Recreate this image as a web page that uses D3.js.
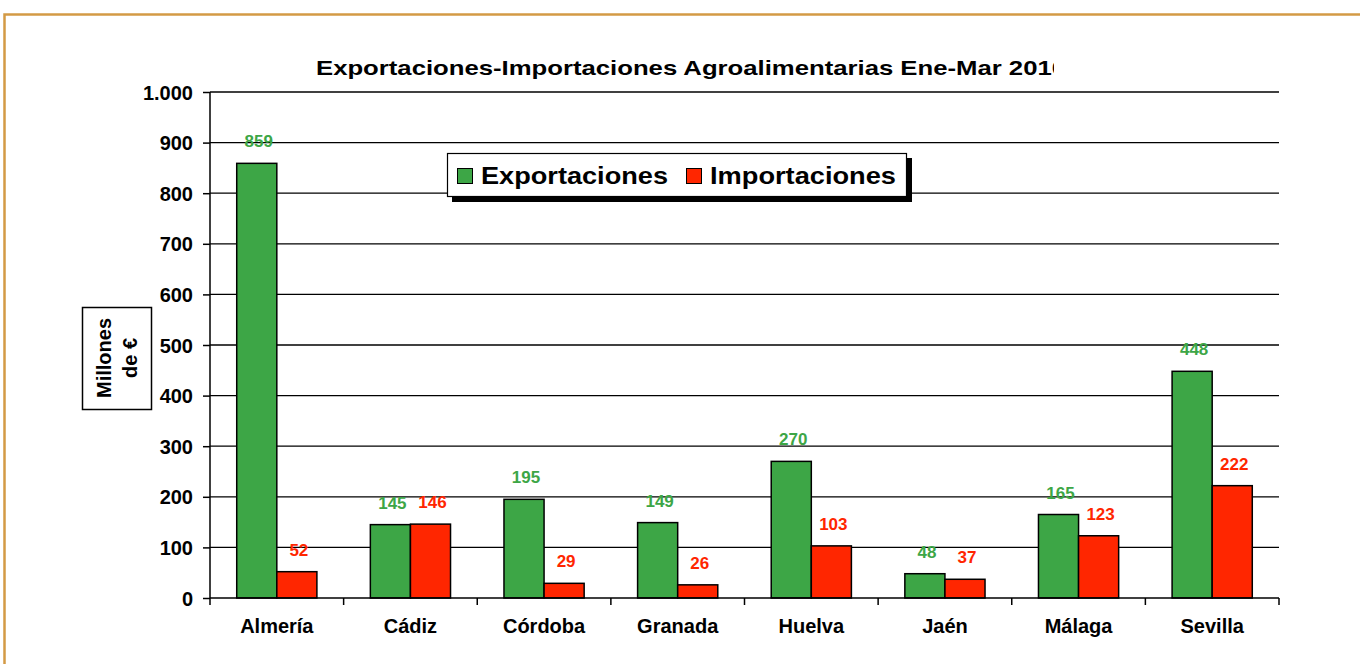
<!DOCTYPE html>
<html><head><meta charset="utf-8">
<script src="https://cdn.jsdelivr.net/npm/d3@7"></script>
<style>body{margin:0;background:#fff;} svg{display:block;font-family:"Liberation Sans",Arial,sans-serif;}</style>
</head><body>
<script>
const categories = ["Almería","Cádiz","Córdoba","Granada","Huelva","Jaén","Málaga","Sevilla"];
const exportaciones = [859,145,195,149,270,48,165,448];
const importaciones = [52,146,29,26,103,37,123,222];
const seriesNames = ["Exportaciones","Importaciones"];
const yTicks = [0,100,200,300,400,500,600,700,800,900,1000];
const title = "Exportaciones-Importaciones Agroalimentarias Ene-Mar 2010";

(function(){
const W=1360,H=664;
const colors = ["#3DA646","#FF2600"];
const svg = d3.select("body").append("svg").attr("width",W).attr("height",H);

// outer frame
svg.append("rect").attr("x",4.5).attr("y",14.5).attr("width",W).attr("height",H)
  .attr("fill","none").attr("stroke","#D39A45").attr("stroke-width",2.5);

const pL=210,pR=1279,pT=92,pB=598;
const x = d3.scaleBand().domain(categories).range([pL,pR]).paddingInner(0.4).paddingOuter(0.2);
const x0 = d3.scaleBand().domain(categories).range([pL,pR]);
const xs = d3.scaleBand().domain(seriesNames).range([0,x.bandwidth()]);
const y = d3.scaleLinear().domain([0,1000]).range([pB,pT]);

// gridlines
svg.append("g").selectAll("line").data(yTicks.filter(d=>d>0)).join("line")
  .attr("x1",pL).attr("x2",pR).attr("y1",d=>y(d)).attr("y2",d=>y(d))
  .attr("stroke","#000").attr("stroke-width",1.3);

// y axis
const fmt = d=> d>=1000 ? d3.format(",")(d).replace(",",".") : String(d);
const yAxis = d3.axisLeft(y).tickValues(yTicks).tickFormat(fmt).tickSize(7).tickPadding(10);
const gy = svg.append("g").attr("transform",`translate(${pL},0)`).call(yAxis);
gy.select(".domain").attr("stroke","#000").attr("stroke-width",1.5).attr("d",`M0,${pT}V${pB}`);
gy.selectAll(".tick line").attr("stroke","#000").attr("stroke-width",1.5);
gy.selectAll(".tick text").attr("font-size",20).attr("font-weight","bold").attr("fill","#000")
  .attr("font-family","Liberation Sans, Arial, sans-serif").attr("dy","0.35em");

// bars
const data = categories.map((c,i)=>({c, vals:[exportaciones[i],importaciones[i]]}));
const groups = svg.append("g").selectAll("g").data(data).join("g")
  .attr("transform",d=>`translate(${x(d.c)},0)`);
groups.selectAll("rect").data(d=>d.vals.map((v,j)=>({v,s:seriesNames[j],j}))).join("rect")
  .attr("x",d=>xs(d.s)).attr("width",xs.bandwidth()).attr("y",d=>y(d.v)).attr("height",d=>y(0)-y(d.v))
  .attr("fill",d=>colors[d.j]).attr("stroke","#000").attr("stroke-width",1.5);
groups.selectAll("text").data(d=>d.vals.map((v,j)=>({v,s:seriesNames[j],j}))).join("text")
  .attr("x",d=>xs(d.s)+xs.bandwidth()/2+2).attr("y",d=>y(d.v)-16)
  .attr("text-anchor","middle").attr("font-size",17).attr("font-weight","bold")
  .attr("fill",d=>colors[d.j]).text(d=>d.v);

// x axis
const xAxis = d3.axisBottom(x0).tickSize(0).tickPadding(21);
const gx = svg.append("g").attr("transform",`translate(0,${pB})`).call(xAxis);
gx.select(".domain").attr("stroke","#000").attr("stroke-width",1.5).attr("d",`M${pL},0H${pR}`);
gx.selectAll(".tick text").attr("font-size",20).attr("font-weight","bold").attr("fill","#000")
  .attr("font-family","Liberation Sans, Arial, sans-serif");
// category separator ticks
svg.append("g").selectAll("line").data(categories.concat(["__end"])).join("line")
  .attr("x1",(d,i)=>i<categories.length?x0(d):pR).attr("x2",(d,i)=>i<categories.length?x0(d):pR)
  .attr("y1",pB).attr("y2",pB+7).attr("stroke","#000").attr("stroke-width",1.5);

// title (clipped)
svg.append("clipPath").attr("id","tclip").append("rect").attr("x",300).attr("y",40).attr("width",754).attr("height",50);
svg.append("text").attr("clip-path","url(#tclip)").attr("x",316).attr("y",75)
  .attr("font-size",21).attr("font-weight","bold").attr("fill","#000")
  .attr("textLength",750).attr("lengthAdjust","spacingAndGlyphs").text(title);

// y label box
svg.append("rect").attr("x",82.5).attr("y",307.5).attr("width",69).attr("height",102)
  .attr("fill","#fff").attr("stroke","#000").attr("stroke-width",1.5);
const yl = svg.append("text").attr("transform","translate(117,358) rotate(-90)")
  .attr("text-anchor","middle").attr("font-size",20).attr("font-weight","bold").attr("fill","#000");
yl.append("tspan").attr("x",0).attr("dy","-0.3em").text("Millones");
yl.append("tspan").attr("x",0).attr("dy","1.3em").text("de €");

// legend
const lg = svg.append("g");
lg.append("rect").attr("x",452).attr("y",158).attr("width",460).attr("height",44).attr("fill","#000");
lg.append("rect").attr("x",447.5).attr("y",153.5).attr("width",459).attr("height",43)
  .attr("fill","#fff").attr("stroke","#000").attr("stroke-width",1.2);
const lx=[457,686], tx=[481,710], tw=[187,186];
seriesNames.forEach((s,i)=>{
  lg.append("rect").attr("x",lx[i]+0.5).attr("y",168.5).attr("width",15).attr("height",15)
    .attr("fill",colors[i]).attr("stroke","#000").attr("stroke-width",1);
  lg.append("text").attr("x",tx[i]).attr("y",184).attr("font-size",24).attr("font-weight","bold").attr("fill","#000")
    .attr("textLength",tw[i]).attr("lengthAdjust","spacingAndGlyphs").text(s);
});
})();
</script>
</body></html>
